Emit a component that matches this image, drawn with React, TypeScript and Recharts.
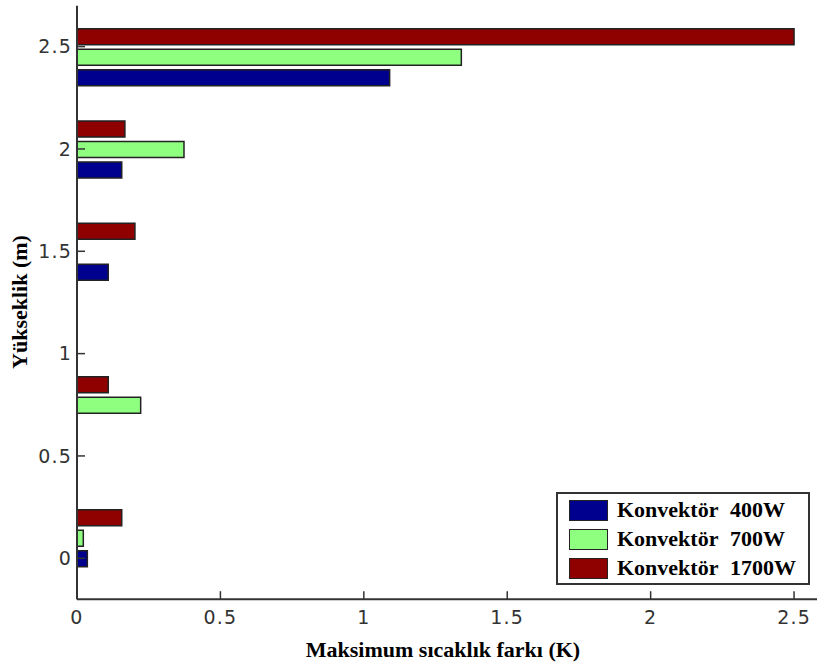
import React from 'react';
import { BarChart, Bar, XAxis, YAxis, Legend } from 'recharts';

const heights = [0.1, 0.75, 1.5, 2.0, 2.45];
const conv400 = [0.036, 0, 0.109, 0.156, 1.09];
const conv700 = [0.022, 0.222, 0, 0.373, 1.34];
const conv1700 = [0.156, 0.109, 0.202, 0.167, 2.5];
const xTicks = [0, 0.5, 1, 1.5, 2, 2.5];
const yTicks = [0, 0.5, 1, 1.5, 2, 2.5];
const seriesNames = ['Konvektör', 'Konvektör', 'Konvektör'];
const seriesPowers = ['400W', '700W', '1700W'];
const seriesColors = ['#00008f', '#8fff80', '#8f0000'];

const data = heights.map((h, i) => ({
  h,
  c400: conv400[i],
  c700: conv700[i],
  c1700: conv1700[i],
}));

const serif = '"Liberation Serif", "Times New Roman", serif';
const sans = '"DejaVu Sans", sans-serif';

const XTitle = () => (
  <text x={443} y={657} textAnchor="middle" fontFamily={serif} fontWeight="bold" fontSize={22} fill="#000">
    Maksimum sıcaklık farkı (K)
  </text>
);

const YTitle = () => (
  <text x={27} y={302} textAnchor="middle" fontFamily={serif} fontWeight="bold" fontSize={22} fill="#000" transform="rotate(-90, 27, 302)">
    Yükseklik (m)
  </text>
);

const LegendBox = () => (
  <div
    style={{
      position: 'absolute',
      left: 0,
      top: 0,
      width: 250,
      height: 89,
      border: '2px solid #333',
      background: '#fff',
      boxSizing: 'content-box',
    }}
  >
    {seriesPowers.map((p, i) => (
      <div key={p} style={{ position: 'absolute', left: 0, top: 6 + i * 29.2, height: 22, width: 250 }}>
        <div
          style={{
            position: 'absolute',
            left: 11,
            top: 0,
            width: 37,
            height: 19,
            background: seriesColors[i],
            border: '1.5px solid #222',
          }}
        />
        <span
          style={{
            position: 'absolute',
            left: 59,
            top: -3,
            fontFamily: serif,
            fontWeight: 'bold',
            fontSize: 22,
            lineHeight: '26px',
            color: '#000',
            whiteSpace: 'nowrap',
          }}
        >
          {seriesNames[i]}
        </span>
        <span
          style={{
            position: 'absolute',
            left: 172,
            top: -3,
            fontFamily: serif,
            fontWeight: 'bold',
            fontSize: 22,
            lineHeight: '26px',
            color: '#000',
            whiteSpace: 'nowrap',
          }}
        >
          {p}
        </span>
      </div>
    ))}
  </div>
);

export default function App() {
  return (
    <div style={{ position: 'absolute', left: 0, top: 0, width: 817, height: 668, background: '#fff' }}>
      <BarChart
        width={817}
        height={668}
        data={data}
        layout="vertical"
        margin={{ top: 5.7, right: 0, bottom: 0, left: 0 }}
        barSize={16}
        barGap={4.5}
      >
        <XAxis
          type="number"
          domain={[0, 2.58]}
          ticks={xTicks}
          allowDataOverflow
          height={68.8}
          axisLine={{ stroke: '#333', strokeWidth: 2 }}
          tickLine={{ stroke: '#333', strokeWidth: 1.5 }}
          tickSize={-8}
          tickMargin={19}
          tick={{ fill: '#333', fontFamily: sans, fontSize: 19, letterSpacing: 1.2 }}
          label={<XTitle />}
        />
        <YAxis
          type="number"
          dataKey="h"
          domain={[-0.2, 2.7]}
          ticks={yTicks}
          allowDataOverflow
          reversed
          width={77}
          axisLine={{ stroke: '#333', strokeWidth: 2 }}
          tickLine={{ stroke: '#333', strokeWidth: 1.5 }}
          tickSize={-8}
          tickMargin={13}
          tick={{ fill: '#333', fontFamily: sans, fontSize: 19, letterSpacing: 1.2 }}
          label={<YTitle />}
        />
        <Legend
          layout="horizontal"
          verticalAlign="middle"
          align="center"
          wrapperStyle={{ position: 'absolute', left: 556, top: 492, width: 254, height: 93, bottom: 'auto' }}
          content={<LegendBox />}
        />
        <Bar dataKey="c1700" name="Konvektör 1700W" fill={seriesColors[2]} stroke="#222" strokeWidth={1.5} isAnimationActive={false} />
        <Bar dataKey="c700" name="Konvektör 700W" fill={seriesColors[1]} stroke="#222" strokeWidth={1.5} isAnimationActive={false} />
        <Bar dataKey="c400" name="Konvektör 400W" fill={seriesColors[0]} stroke="#222" strokeWidth={1.5} isAnimationActive={false} />
      </BarChart>
    </div>
  );
}
